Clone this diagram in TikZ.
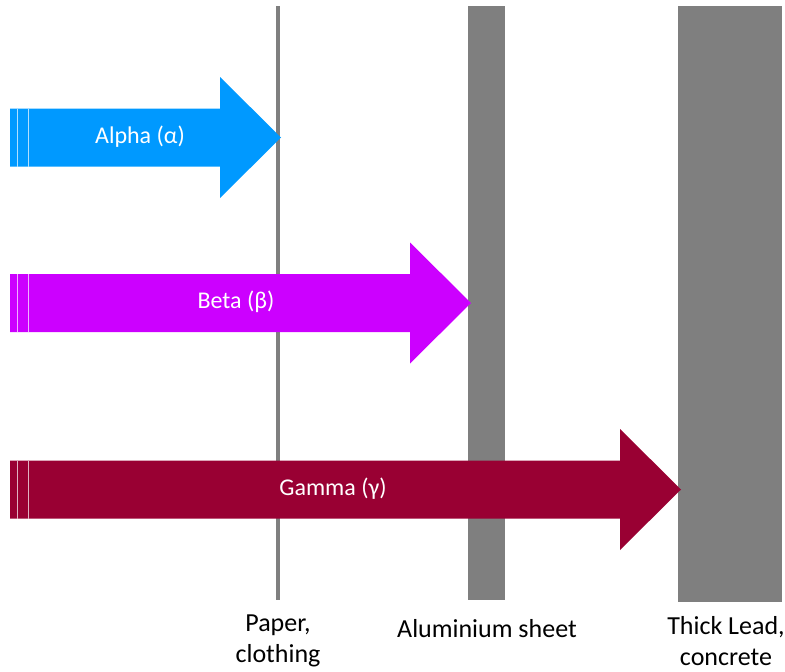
\documentclass[tikz,border=0pt]{standalone}
\usepackage{fontspec}
\setmainfont{Carlito}
\definecolor{alphablue}{HTML}{0099FF}
\definecolor{betapurple}{HTML}{CC00FF}
\definecolor{gammared}{HTML}{990033}
\definecolor{shieldgray}{HTML}{7F7F7F}
\begin{document}
\begin{tikzpicture}[x=1pt,y=-1pt]
      \tikzstyle{every node}=[inner sep=0pt]
      \tikzstyle{raytext}=[text=white,font=\fontsize{24}{29}\selectfont]
      \tikzstyle{shieldtext}=[align=center,font=\fontsize{26}{31}\selectfont]
      \useasboundingbox (0,0) rectangle (785,672);

      % absorbers
      \fill[shieldgray] (275.5,6) rectangle (280,600);
      \fill[shieldgray] (468,6) rectangle (505,600);
      \fill[shieldgray] (678,6) rectangle (782,602);

      % rays
      \foreach \col/\yc/\xh in {alphablue/137.5/220, betapurple/303/410, gammared/489.5/620} {
        \fill[\col] (10,\yc-29) -- (\xh,\yc-29) -- (\xh,\yc-60.5) -- (\xh+61,\yc)
          -- (\xh,\yc+60.5) -- (\xh,\yc+29) -- (10,\yc+29) -- cycle;
        \draw[white!70!\col,line width=1pt] (17,\yc-29) -- (17,\yc+29);
        \draw[white!70!\col,line width=1pt] (28,\yc-29) -- (28,\yc+29);
      }
      \node[raytext] (alpha) at (140,137) {Alpha (α)};
      \node[raytext] (beta) at (236,302) {Beta (β)};
      \node[raytext] (gamma) at (333,489) {Gamma (γ)};

      % labels
      \node[shieldtext] (paper) at (278,641) {Paper,\\clothing};
      \node[shieldtext] (alu) at (487,629) {Aluminium sheet};
      \node[shieldtext] (lead) at (726,641) {Thick Lead,\\concrete};
\end{tikzpicture}
\end{document}
